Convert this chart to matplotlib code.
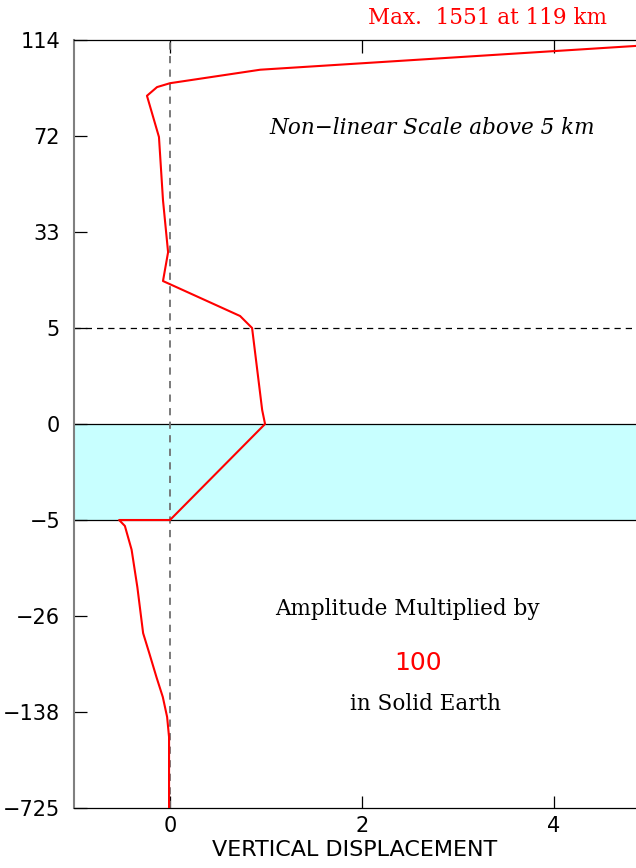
import numpy as np
import matplotlib
matplotlib.use("Agg")
import matplotlib.pyplot as plt

# tick altitudes (km), equally spaced on the plot
tick_alt = [-725, -138, -26, -5, 0, 5, 33, 72, 114]
tick_lab = ["−725", "−138", "−26", "−5", "0", "5", "33", "72", "114"]

# displacement profile
alt = [111.4, 101, 95.1, 93.4, 89.6, 71.6, 45.9, 27.1, 18.7, 8.5, 5, 0.73, 0,
       -5, -5, -6.3, -11.5, -19.7, -46, -69.7, -97.7, -120.5, -168.5, -290.6, -725]
disp = [4.85, 0.94, 0.0, -0.135, -0.24, -0.115, -0.073, -0.02, -0.073, 0.73, 0.855, 0.96, 0.99,
        0.0, -0.53, -0.47, -0.40, -0.34, -0.28, -0.215, -0.14, -0.075, -0.03, -0.01, -0.01]

def pos(a):
    return np.interp(a, tick_alt, np.arange(len(tick_alt)))

fig = plt.figure(figsize=(6.36, 8.68), dpi=100)
ax = fig.add_axes([74/636, 1-808/868, 1-74/636, 768/868])

ax.axhspan(pos(-5), pos(0), color="#c8ffff", lw=0, zorder=0)
ax.axhline(pos(0), color="black", lw=0.9)
ax.axhline(pos(-5), color="black", lw=0.9)
ax.axhline(pos(5), color="black", lw=0.9, ls=(0, (5, 4)))
ax.axvline(0, color="#707070", lw=1.3, ls=(0, (4, 3.5)))

ax.plot(disp, pos(alt), color="red", lw=1.5, zorder=5)

ax.set_xlim(-1, 4.854)
ax.set_ylim(0, 8)
ax.set_yticks(np.arange(len(tick_alt)))
ax.set_yticklabels(tick_lab)
ax.set_xticks([0, 2, 4])
ax.set_xticklabels(["0", "2", "4"])
ax.tick_params(axis="y", direction="in", length=9, width=0.9, labelsize=15, pad=10, right=False)
ax.tick_params(axis="x", direction="in", length=9, width=0.9, labelsize=15, pad=6, top=True)
ax.spines["right"].set_visible(False)
ax.spines["left"].set_color("#808080")
ax.spines["left"].set_linewidth(1.5)
ax.spines["top"].set_linewidth(0.9)
ax.spines["bottom"].set_linewidth(0.9)
ax.set_xlabel("VERTICAL DISPLACEMENT", fontsize=16, labelpad=3)

ax.text(607, 868-18, "Max.  1551 at 119 km", transform=None, color="red",
        family="DejaVu Serif", fontsize=15.5, ha="right", va="center")
ax.text(432, 868-128, "Non−linear Scale above 5 km", transform=None, fontsize=15.5,
        family="DejaVu Serif", style="italic", ha="center", va="center")
ax.text(407, 868-609, "Amplitude Multiplied by", transform=None, fontsize=15.5,
        family="DejaVu Serif", ha="center", va="center")
ax.text(418, 868-663, "100", transform=None, fontsize=18, color="red",
        ha="center", va="center")
ax.text(425, 868-704, "in Solid Earth", transform=None, fontsize=15.5,
        family="DejaVu Serif", ha="center", va="center")

fig.savefig("out.png", dpi=100)
